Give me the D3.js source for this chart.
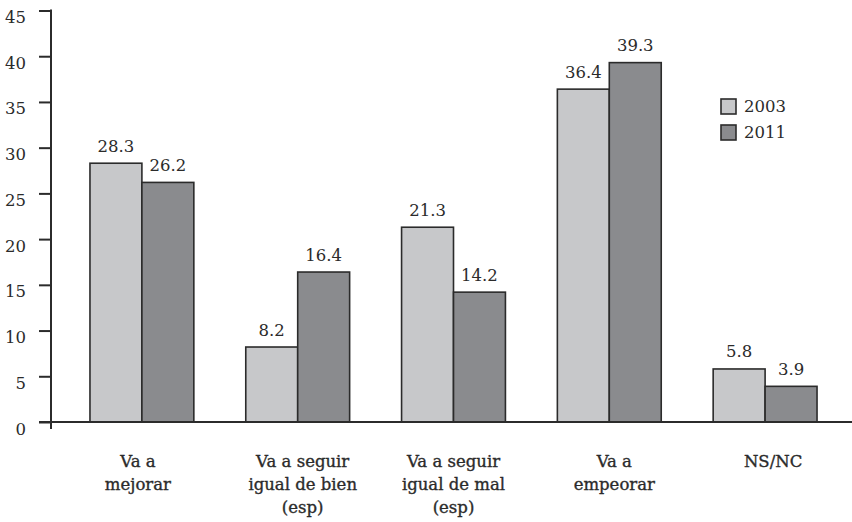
<!DOCTYPE html>
<html>
<head>
<meta charset="utf-8">
<script src="https://cdn.jsdelivr.net/npm/d3@7"></script>
<style>
  html, body { margin: 0; padding: 0; background: #ffffff; }
  svg { display: block; }
  text { font-family: "DejaVu Serif", "Liberation Serif", serif; fill: #2b2b2b; }
</style>
</head>
<body>
<svg id="chart" width="852" height="522"></svg>
<script>
// Survey answers, share of respondents (%) by year
const categories = [
  ["Va a", "mejorar"],
  ["Va a seguir", "igual de bien", "(esp)"],
  ["Va a seguir", "igual de mal", "(esp)"],
  ["Va a", "empeorar"],
  ["NS/NC"]
];
const years = ["2003", "2011"];
const values2003 = [28.3, 8.2, 21.3, 36.4, 5.8];
const values2011 = [26.2, 16.4, 14.2, 39.3, 3.9];
const yTicks = [0, 5, 10, 15, 20, 25, 30, 35, 40, 45];

const colors = { "2003": "#c7c8ca", "2011": "#8a8b8e" };
const ink = "#2b2b2b";
// small horizontal nudges for the category captions (px)
const captionNudge = [-4, 5, 0, 5, 8];

const svg = d3.select("#chart");

const keys = categories.map((c, i) => i);
const rows = keys.map(i => ({ key: i, "2003": values2003[i], "2011": values2011[i] }));

const x0 = d3.scaleBand()
  .domain(keys)
  .range([64, 843])
  .paddingInner(1 / 3)
  .paddingOuter(1 / 6);

const x1 = d3.scaleBand()
  .domain(years)
  .range([0, x0.bandwidth()]);

const y = d3.scaleLinear()
  .domain([0, 45])
  .range([422, 10.5]);

const axisX = 51;

// bars
const groups = svg.append("g")
  .selectAll("g")
  .data(rows)
  .join("g")
  .attr("transform", d => `translate(${x0(d.key)},0)`);

groups.selectAll("rect")
  .data(d => years.map(yr => ({ yr, v: d[yr] })))
  .join("rect")
  .attr("x", d => x1(d.yr))
  .attr("y", d => y(d.v))
  .attr("width", x1.bandwidth())
  .attr("height", d => y(0) - y(d.v))
  .attr("fill", d => colors[d.yr])
  .attr("stroke", ink)
  .attr("stroke-width", 1.6);

// value labels
groups.selectAll("text.val")
  .data(d => years.map(yr => ({ yr, v: d[yr] })))
  .join("text")
  .attr("class", "val")
  .attr("x", d => x1(d.yr) + x1.bandwidth() / 2)
  .attr("y", d => y(d.v) - 11.5)
  .attr("text-anchor", "middle")
  .attr("font-size", 16.5)
  .text(d => d.v.toFixed(1));

// y axis
const yAxis = d3.axisLeft(y)
  .tickValues(yTicks)
  .tickSize(12)
  .tickPadding(0)
  .tickFormat(d3.format("d"));

const gy = svg.append("g")
  .attr("transform", `translate(${axisX},0)`)
  .call(yAxis);
gy.select(".domain").remove();
gy.selectAll(".tick line").attr("stroke", ink).attr("stroke-width", 2);
gy.selectAll(".tick text")
  .attr("x", -25)
  .attr("dy", null)
  .attr("y", 12)
  .attr("font-family", "DejaVu Serif, serif")
  .attr("font-size", 16.5)
  .attr("fill", ink);

svg.append("line")
  .attr("x1", axisX).attr("x2", axisX)
  .attr("y1", y(45) - 1).attr("y2", 429)
  .attr("stroke", ink).attr("stroke-width", 2);

// x baseline
svg.append("line")
  .attr("x1", 39).attr("x2", 852)
  .attr("y1", y(0)).attr("y2", y(0))
  .attr("stroke", ink).attr("stroke-width", 2);

// category labels
const cx = k => x0(k) + x0.bandwidth() / 2 + captionNudge[k];
const cat = svg.append("g")
  .selectAll("text")
  .data(rows)
  .join("text")
  .attr("class", "cat")
  .attr("x", d => cx(d.key))
  .attr("y", 467)
  .attr("text-anchor", "middle")
  .attr("font-size", 16.5)
  .attr("stroke", ink)
  .attr("stroke-width", 0.35);

cat.selectAll("tspan")
  .data(d => categories[d.key].map((t, i) => ({ t, i, x: cx(d.key) })))
  .join("tspan")
  .attr("x", d => d.x)
  .attr("dy", d => d.i === 0 ? 0 : 23)
  .text(d => d.t);

// legend
const legend = svg.append("g")
  .selectAll("g")
  .data(years)
  .join("g")
  .attr("transform", (d, i) => `translate(721,${99 + i * 26})`);

legend.append("rect")
  .attr("width", 15).attr("height", 15)
  .attr("fill", d => colors[d])
  .attr("stroke", ink)
  .attr("stroke-width", 1.6);

legend.append("text")
  .attr("x", 23)
  .attr("y", 12.5)
  .attr("font-size", 16.5)
  .text(d => d);
</script>
</body>
</html>
